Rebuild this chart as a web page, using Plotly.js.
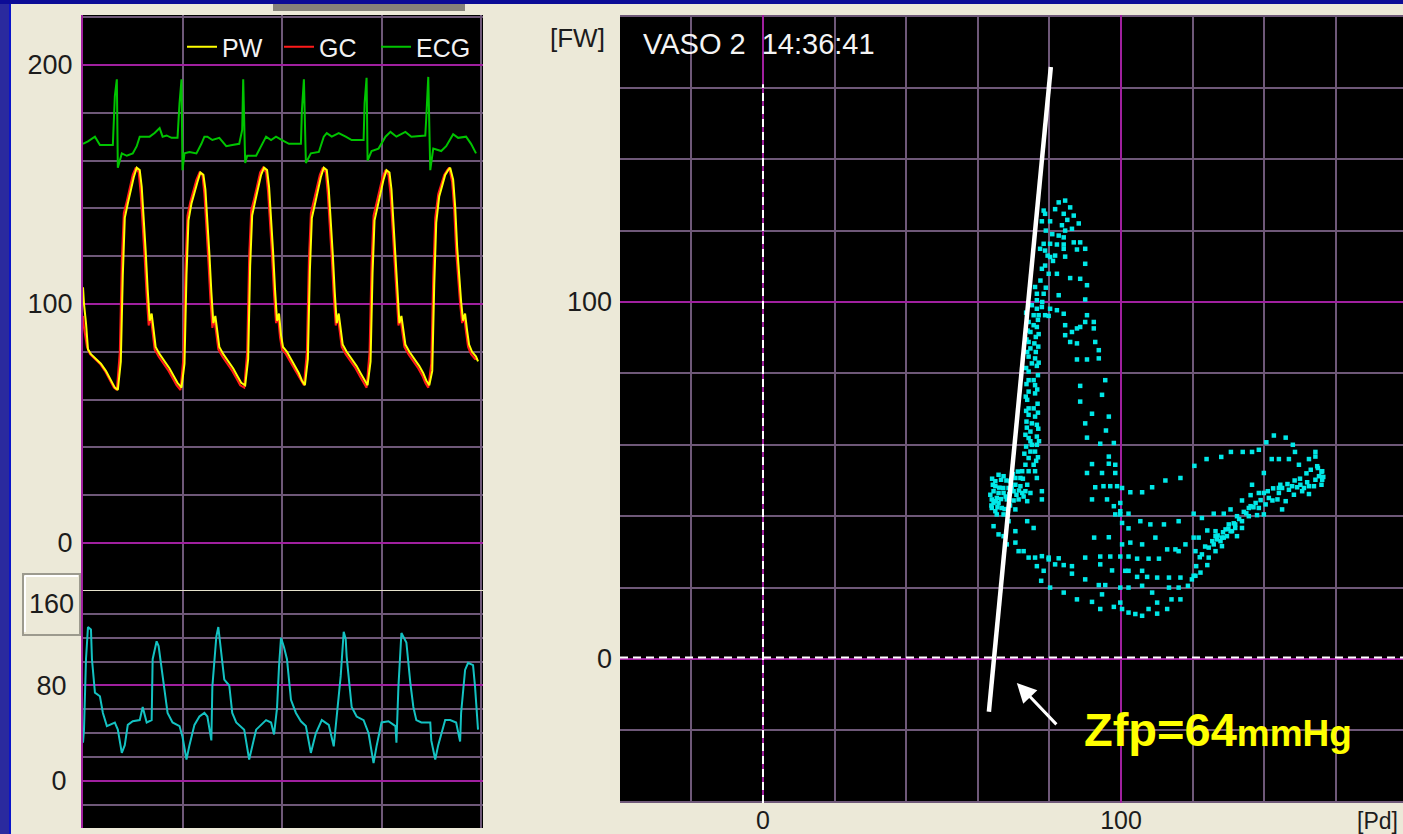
<!DOCTYPE html>
<html>
<head>
<meta charset="utf-8">
<script src="https://cdn.plot.ly/plotly-3.0.1.min.js"></script>
<style>html,body{margin:0;padding:0;background:#ece9d8;}#chart{width:1403px;height:834px;}</style>
</head>
<body>
<div id="chart"></div>
<script>
// ---------- left panel: waveforms (time in 10 ms units) ----------
const gcTime = [0,1,4,7,12,17,22,27,31,34,
 37,39,41,44,47,50,53,56,58,60,62,64,66,68,70,72,76,81,86,90,94,98,
 101,103,105,108,111,114,117,120,122,124,126,128,130,132,134,136,140,145,150,154,158,162,
 165,167,169,172,175,178,181,184,186,188,190,192,194,196,198,200,204,208,212,216,219,222,
 225,227,229,232,235,238,241,244,246,248,250,252,254,256,258,260,264,269,274,278,282,285,
 288,290,292,295,298,301,304,307,309,311,313,315,317,319,321,323,327,332,337,341,344,347,
 350,352,354,357,360,363,366,368,371,373,375,377,379,381,383,385,387,390,394,397];
const gcValues = [95,90,82,79,77,75,72,68,65,64,
 80,118,138,143,149,154,157,155,146,134,119,103,91,95,87,81,78,75,72,69,66,64,
 78,116,137,143,148,152,155,154,146,133,118,102,90,94,86,81,78,75,72,69,66,65,
 80,120,139,144,150,155,157,155,147,135,120,104,92,95,86,81,79,76,73,70,68,66,
 80,118,138,143,149,154,157,155,146,134,119,103,91,95,87,82,79,76,73,70,67,65,
 80,117,137,142,148,153,156,154,146,133,118,103,91,94,87,82,79,76,73,70,67,65,
 75,112,136,146,150,154,156,157,151,140,122,110,100,92,95,88,82,79,77,77];

const pwTime = [0,1,3,5,8,13,18,23,28,32,35,
 38,40,42,45,48,51,54,57,59,61,63,65,67,69,71,73,77,82,87,91,95,99,
 102,104,106,109,112,115,118,121,123,125,127,129,131,133,135,137,141,146,151,155,159,163,
 166,168,170,173,176,179,182,185,187,189,191,193,195,197,199,201,205,209,213,217,220,223,
 226,228,230,233,236,239,242,245,247,249,251,253,255,257,259,261,265,270,275,279,283,286,
 289,291,293,296,299,302,305,308,310,312,314,316,318,320,322,324,328,333,338,342,345,348,
 351,353,355,358,361,364,367,369,372,374,376,378,380,382,384,386,388,391,395,397];
const pwValues = [107,100,92,81,79,77,75,72,68,65,64,
 76,112,136,142,148,153,157,156,149,137,122,106,93,96,88,82,79,76,73,70,67,65,
 75,112,135,142,147,151,155,154,148,136,121,105,92,95,87,82,79,76,73,70,67,66,
 77,116,137,143,149,154,157,156,149,137,122,106,93,96,87,82,80,77,74,71,68,66,
 77,114,136,142,148,153,157,156,148,136,121,105,92,96,88,83,80,77,74,71,68,66,
 76,113,135,141,147,152,156,155,148,135,120,105,92,95,88,83,80,77,74,71,68,66,
 72,108,134,145,150,154,156,157,152,141,124,111,101,93,96,89,83,80,78,76];

const ecgTime = [0,5,12,17,30,32,34,35,39,44,50,54,57,62,67,72,77,80,84,89,95,
 97,99,100,102,107,114,119,122,125,130,137,144,150,157,
 160,161,163,165,174,179,184,189,194,200,207,219,
 220,222,224,229,237,242,245,250,257,264,270,282,
 283,285,286,290,297,304,309,315,324,330,344,
 345,347,349,352,360,365,372,377,385,390,395];
const ecgValues = [167,168,170,166.5,166.5,187,194,157,163,162,163,166,170,170,170,171.5,173.6,170,170.5,169.5,169.5,
 184,194,156,163,163.6,163,167,170,170,168.6,169.5,166,166.5,167,
 172.8,194,159,162,162,166,170,168.6,170,168.6,167,167,
 181,194,159,163,163.6,170,171.5,170,171.5,170,168.6,168.6,
 184,194.6,160,164,165,170,172,170,172,170,170.5,
 178,195,156,165,164,166,171,169.5,170,167,163];

// ---------- lower left panel ----------
const flowTime = [0,1,3,5,8,9,12,17,20,24,32,35,39,42,45,50,57,60,64,69,
 70,74,76,79,82,85,90,97,100,104,107,112,117,122,125,129,
 130,134,136,139,142,147,150,154,162,167,170,174,184,189,192,
 195,197,199,202,205,209,214,219,224,229,234,240,247,252,254,
 259,262,264,265,270,275,282,287,292,295,300,307,314,315,
 317,320,325,329,332,335,340,349,350,354,357,364,369,375,379,
 380,384,387,392,394,397];
const flowValues = [32,43,102,129,127,102,74,71,57,46,49,43,23.5,30,47,50,51,62,49,51,
 102,117,113,93,74,57,49,46,37,18,30,47,54,57,54,34,
 79,121,129,108,85,80,57,49,43,18,30,43,51,49,39,
 61,96,120,112,102,68,57,50,46,23.5,40,51,47,29,47,
 88,125,119,104,62,54,51,40,15,29,49,50,46,32,
 79,124,116,82,62,51,49,49,34,18,30,51,51,49,33,
 57,93,99,97,79,43];

// ---------- right panel: Pd vs FW loop ----------
const pdValues = [82.6,84.4,85.8,84.0,86.8,88.2,80.2,78.4,78.8,77.9,81.6,84.4,86.3,82.6,84.0,86.8,88.6,82.1,84.0,80.2,
 78.4,77.4,78.8,80.2,81.6,84.0,87.7,90.0,84.4,90.0,78.8,77.9,79.8,82.1,85.8,88.6,90.5,90.0,82.6,76.0,
 76.5,78.4,75.1,76.5,77.9,80.2,82.1,84.0,75.6,77.0,78.8,79.8,74.2,75.6,76.5,74.7,76.2,74.2,75.8,74.7,
 76.2,74.2,76.0,75.1,76.5,74.2,75.6,74.2,76.0,74.2,76.0,73.8,74.2,75.6,74.2,76.0,75.1,76.5,74.7,76.5,
 74.2,75.1,76.5,74.7,76.0,74.2,75.6,73.3,72.4,74.2,71.9,73.8,70.5,74.7,72.4,70.0,68.6,67.2,65.8,64.9,
 64.4,65.8,63.9,65.8,68.1,70.0,71.4,73.8,63.9,65.3,64.4,65.8,67.2,68.6,70.5,75.6,73.8,77.9,77.9,76.5,
 76.0,64.9,67.1,65.3,67.2,69.0,70.5,71.9,73.3,64.4,66.7,64.9,73.3,74.7,
 84.4,84.4,86.3,87.7,88.6,90.0,90.5,92.4,92.4,85.8,87.7,92.8,93.8,93.8,87.7,90.5,88.6,95.6,94.7,88.6,
 91.9,96.6,90.0,95.8,90.5,94.2,98.0,96.6,91.9,96.6,98.4,90.5,94.7,98.4,92.8,95.1,97.0,98.9,100.3,102.6,
 105.9,108.7,91.9,96.1,99.8,98.0,99.8,99.8,102.1,
 112.4,116.6,120.5,123.9,128.0,130.7,134.0,136.6,138.5,140.6,142.7,146.0,148.0,148.6,142.1,144.1,146.9,149.7,152.5,154.3,
 154.3,154.8,156.0,156.2,154.3,153.9,151.1,149.2,146.9,145.0,144.1,143.7,146.0,148.3,150.6,152.5,145.0,142.3,140.4,139.9,
 138.5,139.9,136.6,136.2,133.8,136.2,138.5,139.9,138.0,135.7,133.8,131.9,131.0,129.6,128.2,126.8,125.9,128.2,126.4,124.5,
 124.1,122.2,120.8,119.8,118.7,116.6,113.4,110.1,107.3,104.5,101.2,97.5,94.2,90.0,86.3,84.0,81.6,79.8,77.9,76.0,
 74.2,72.8,71.4,70.5,68.1,67.2,70.5,76.5,78.4,77.7,80.2,84.0,87.7,91.9,94.7,94.2,98.0,100.3,102.1,104.0,
 105.9,107.7,110.1,110.1,112.9,114.1,116.6,120.3,
 92.5,94.2,97.0,99.8,102.1,104.5,107.7,110.6,112.9,115.2,118.0,116.1,120.8,120.3,121.7,124.1,126.4,126.4,128.7,130.6,
 132.4,133.8,122.6,125.9,128.7,130.6,132.4,134.3,120.3,116.1,112.0,108.2,105.4,102.1,100.3,98.4,96.6,100.3,102.6,105.9,
 109.6,102.1,105.9,95.6,93.8,99.8,113.4,116.1,99.8,108.7,105.9,102.1,90.0,86.3,82.6,79.8,
 135.7,137.6,141.3,144.1,147.8,150.1,152.5,155.3,156.2,131.9,130.1,129.2,127.8,124.5,122.6,
 73.5,76.8,73.9,77.0,73.6,76.9,73.8,77.0,73.5,76.8,73.6,76.6,73.4,76.7,73.5,76.8,73.6,76.9,73.7,77.1,
 73.5,76.8,73.0,76.3,
 63.5,64.2,65.0,66.0,66.5,67.8,68.8,69.5,70.8,71.5,72.8,64.0,66.5,68.0,69.8,71.2,72.6,63.8,65.5,67.5,69.0,
 79.0,80.8,83.5,85.0,81.0,79.5,77.5,79.0,76.5,78.0,
 150.0,151.8,153.0,155.0,156.5,156.0,152.0,148.5,146.5,144.5,142.5,141.0,139.0,137.0,135.0,133.0,131.5,130.0,128.5,127.0,
 125.5,123.5,122.0,121.0];
const fwValues = [127.9,128.4,126.5,124.7,124.2,122.0,122.6,125.6,124.7,122.6,126.0,120.0,120.5,118.6,118.1,116.7,116.7,116.1,116.1,116.3,
 116.3,114.9,114.4,112.6,113.0,114.9,114.7,114.9,112.7,110.7,110.2,109.3,107.9,107.9,106.7,106.5,104.7,100.7,101.9,104.2,
 102.3,102.3,99.1,98.1,98.6,98.1,97.7,96.7,96.3,96.3,96.3,96.1,94.4,93.5,93.0,91.6,90.2,88.8,88.4,87.0,
 86.0,84.7,84.2,82.8,82.1,80.5,78.1,78.1,76.7,74.9,74.4,72.6,70.2,70.2,68.4,67.9,66.0,65.6,63.7,62.3,
 61.9,60.0,60.0,58.1,58.1,56.3,54.4,54.4,52.6,52.6,50.7,48.8,48.8,46.5,46.5,47.0,47.9,51.2,51.6,49.8,
 47.0,46.5,44.7,43.7,44.7,44.4,44.7,44.2,42.3,40.5,37.2,34.9,40.5,38.6,41.9,36.7,38.6,47.0,44.7,50.7,
 52.6,48.4,47.9,45.1,46.5,49.8,50.7,48.4,47.0,43.7,42.3,41.4,62.8,61.0,
 93.5,90.7,91.6,92.6,93.0,94.4,96.3,94.4,92.6,88.8,88.4,88.8,86.5,84.2,83.9,83.9,76.5,78.1,74.0,72.1,
 68.7,67.9,66.0,64.0,62.0,60.3,60.5,56.7,54.6,54.7,54.4,52.1,52.1,52.1,48.1,48.4,48.4,48.4,47.9,46.7,
 46.7,48.1,44.7,44.7,43.7,42.8,41.4,40.5,40.7,
 50.0,50.7,54.1,56.0,56.6,58.0,58.0,58.0,58.6,60.7,62.6,62.0,60.0,58.0,56.0,56.0,56.0,54.4,56.0,58.0,
 56.7,54.0,52.4,50.2,50.2,48.4,47.9,48.1,47.4,47.9,46.5,44.7,44.2,46.0,47.0,46.2,41.9,44.4,43.3,46.5,
 46.5,52.1,48.8,45.9,44.4,42.8,42.3,40.5,40.3,40.0,38.6,37.7,35.8,34.4,34.0,33.5,32.1,31.6,30.2,28.4,
 26.3,24.2,23.3,22.3,20.5,22.8,22.8,22.8,23.0,23.0,24.7,24.8,26.5,22.3,23.9,26.3,26.5,28.4,28.8,28.4,
 28.4,30.2,30.2,32.6,32.1,34.4,35.8,26.0,24.7,21.9,20.0,18.6,16.7,16.0,18.1,14.0,14.6,14.0,13.0,12.6,
 12.1,14.0,12.7,15.8,14.0,16.7,16.7,23.3,
 34.0,28.7,28.7,28.7,28.7,28.1,28.1,28.1,30.7,30.7,32.1,30.2,30.2,34.0,34.0,36.0,35.8,34.4,34.0,35.8,
 34.4,36.7,39.5,40.7,40.7,41.9,40.0,41.2,40.7,38.6,37.7,37.7,38.6,36.6,38.1,40.5,34.1,32.1,32.6,32.1,
 34.0,20.0,20.5,20.7,20.7,20.0,20.0,20.0,15.8,18.6,24.7,24.7,28.4,26.0,28.2,27.9,
 42.3,43.7,45.1,47.9,48.4,48.8,48.4,51.2,52.6,36.7,37.7,36.3,33.0,31.2,29.3,
 97.0,95.0,92.0,91.0,89.5,87.5,86.0,83.0,81.5,79.5,77.0,75.5,73.5,71.5,69.5,69.0,66.5,64.5,64.8,61.0,
 59.5,56.5,57.5,55.5,
 46.0,48.8,44.2,48.0,44.8,45.5,46.2,48.0,46.0,47.2,45.5,50.5,50.2,50.0,51.8,52.5,50.5,43.0,42.5,42.0,43.0,
 120.0,119.0,121.5,123.0,111.5,113.0,106.0,104.0,100.5,100.0,
 50.5,52.0,53.0,53.5,51.0,48.8,49.5,50.0,49.0,48.8,47.8,47.0,44.5,42.5,40.8,39.2,38.0,36.5,35.5,34.6,
 33.0,31.5,28.5,26.0];

// Zero-flow pressure line (Zfp = 64 mmHg)
const zfpLinePd = [80.4, 63.1];
const zfpLineFw = [165.8, -14.8];

// tick labels
const leftTopTicks = [0, 100, 200];
const leftBottomTicks = [0, 80];
const rightXTicks = [0, 100];
const rightYTicks = [0, 100];

// ---------- layout helpers ----------
const W = 1403, H = 834;
const px = x => x / W;
const py = y => 1 - y / H;
const GRID = '#6e5878';
const MAG = '#a0209f';
const TXT = '#1c1c1c';
const FONT = 'Liberation Sans, Arial, sans-serif';

const traces = [
  {x: pdValues, y: fwValues, xaxis: 'x2', yaxis: 'y2', type: 'scatter', mode: 'markers',
   marker: {symbol: 'square', size: 4.5, color: '#00e8e8'}, showlegend: false, hoverinfo: 'skip'},
  {x: zfpLinePd, y: zfpLineFw, xaxis: 'x2', yaxis: 'y2', type: 'scatter', mode: 'lines',
   line: {color: '#ffffff', width: 4.5}, showlegend: false},
  {x: gcTime, y: gcValues, xaxis: 'x', yaxis: 'y', type: 'scatter', mode: 'lines', name: 'GC',
   line: {color: '#ff1a1a', width: 2}, legendrank: 2},
  {x: pwTime, y: pwValues, xaxis: 'x', yaxis: 'y', type: 'scatter', mode: 'lines', name: 'PW',
   line: {color: '#ffff00', width: 2}, legendrank: 1},
  {x: ecgTime, y: ecgValues, xaxis: 'x', yaxis: 'y', type: 'scatter', mode: 'lines', name: 'ECG',
   line: {color: '#00c400', width: 2}, legendrank: 3},
  {x: flowTime, y: flowValues, xaxis: 'x3', yaxis: 'y3', type: 'scatter', mode: 'lines', name: 'FLOW',
   line: {color: '#14c2c2', width: 2}, showlegend: false}
];

function tickAxis(vals) { return {tickmode: 'array', tickvals: vals, ticktext: vals.map(String)}; }

const layout = {
  width: W, height: H,
  margin: {l: 0, r: 0, t: 0, b: 0, pad: 0},
  paper_bgcolor: '#ece9d8',
  plot_bgcolor: '#000000',
  font: {family: FONT, color: TXT, size: 27},
  showlegend: true,
  legend: {orientation: 'h', x: px(182), xanchor: 'left', y: py(47), yanchor: 'middle',
    font: {size: 25, color: '#f2f2f2', family: FONT}, bgcolor: 'rgba(0,0,0,0)',
    entrywidth: 52, entrywidthmode: 'pixels', itemwidth: 30, itemclick: false},
  xaxis: {domain: [px(83), px(483)], range: [0, 402], anchor: 'y', showticklabels: false, ticks: '',
    tickmode: 'linear', tick0: 0, dtick: 100, showgrid: true, gridcolor: GRID, gridwidth: 2, zeroline: false, fixedrange: true},
  yaxis: Object.assign(tickAxis(leftTopTicks), {domain: [py(590), py(15)], range: [-19.67, 220.9], anchor: 'x',
    showgrid: true, gridcolor: MAG, gridwidth: 2, zeroline: false, ticks: '', ticklabelstandoff: 3,
    minor: {tickmode: 'linear', tick0: 0, dtick: 20, showgrid: true, gridcolor: GRID, gridwidth: 2},
    showline: true, linecolor: MAG, linewidth: 2, tickfont: {size: 27, color: TXT}}),
  xaxis3: {domain: [px(83), px(483)], range: [0, 402], anchor: 'y3', showticklabels: false, ticks: '',
    tickmode: 'linear', tick0: 0, dtick: 100, showgrid: true, gridcolor: GRID, gridwidth: 2, zeroline: false},
  yaxis3: Object.assign(tickAxis(leftBottomTicks), {domain: [py(828), py(590)], range: [-39.4, 160], anchor: 'x3',
    showgrid: true, gridcolor: MAG, gridwidth: 2, zeroline: false, ticks: '', ticklabelstandoff: 9,
    minor: {tickmode: 'linear', tick0: 0, dtick: 20, showgrid: true, gridcolor: GRID, gridwidth: 2},
    showline: true, linecolor: MAG, linewidth: 2, tickfont: {size: 27, color: TXT}}),
  xaxis2: Object.assign(tickAxis(rightXTicks), {domain: [px(620), 1], range: [-39.94, 178.77], anchor: 'y2',
    showgrid: true, gridcolor: MAG, gridwidth: 2, zeroline: false, ticks: '', ticklabelstandoff: 0,
    minor: {tickmode: 'linear', tick0: 0, dtick: 20, showgrid: true, gridcolor: GRID, gridwidth: 2},
    tickfont: {size: 25, color: TXT}}),
  yaxis2: Object.assign(tickAxis(rightYTicks), {domain: [py(803), py(15)], range: [-40.34, 180.39], anchor: 'x2',
    showgrid: true, gridcolor: MAG, gridwidth: 2, zeroline: false, ticks: '', ticklabelstandoff: 7,
    minor: {tickmode: 'linear', tick0: 0, dtick: 20, showgrid: true, gridcolor: GRID, gridwidth: 2},
    tickfont: {size: 27, color: TXT}}),
  shapes: [
    // window chrome
    {type: 'rect', xref: 'paper', yref: 'paper', x0: 0, x1: px(9), y0: 0, y1: 1, fillcolor: '#2a2a9e', line: {width: 0}, layer: 'below'},
    {type: 'rect', xref: 'paper', yref: 'paper', x0: px(9), x1: px(11), y0: 0, y1: 1, fillcolor: '#0a14c8', line: {width: 0}, layer: 'below'},
    {type: 'rect', xref: 'paper', yref: 'paper', x0: 0, x1: 1, y0: py(4), y1: 1, fillcolor: '#0c0c96', line: {width: 0}, layer: 'below'},
    {type: 'rect', xref: 'paper', yref: 'paper', x0: px(273), x1: px(465), y0: py(11), y1: py(4), fillcolor: '#86837a', line: {width: 0}},
    // 160 button
    {type: 'rect', xref: 'paper', yref: 'paper', x0: px(23), x1: px(80), y0: py(635), y1: py(574), fillcolor: '#ece9d8', line: {color: '#9c9a8e', width: 2}},
    {type: 'line', xref: 'paper', yref: 'paper', x0: px(25), x1: px(78), y0: py(576), y1: py(576), line: {color: '#ffffff', width: 2}},
    {type: 'line', xref: 'paper', yref: 'paper', x0: px(25), x1: px(25), y0: py(576), y1: py(632), line: {color: '#ffffff', width: 2}},
    // lower-left 160 reference line
    {type: 'line', xref: 'x3 domain', yref: 'y3', x0: 0, x1: 1, y0: 160, y1: 160, line: {color: '#e6e2cc', width: 2}},
    // right panel dashed zero axes
    {type: 'line', xref: 'x2 domain', yref: 'y2', x0: 0, x1: 1, y0: 0.4, y1: 0.4, line: {color: '#ffffff', width: 2, dash: '8px,5px'}},
    {type: 'line', xref: 'x2', yref: 'y2', x0: 0, x1: 0, y0: -40.34, y1: 161, line: {color: '#ffffff', width: 2, dash: '8px,5px'}}
  ],
  annotations: [
    {xref: 'paper', yref: 'paper', x: px(51), y: py(604), text: '160', showarrow: false, xanchor: 'center', yanchor: 'middle', font: {size: 27, color: TXT}},
    {xref: 'paper', yref: 'paper', x: px(548), y: py(38), text: '[FW]', showarrow: false, xanchor: 'left', yanchor: 'middle', font: {size: 26, color: TXT}},
    {xref: 'paper', yref: 'paper', x: px(1400), y: py(821), text: '[Pd]', showarrow: false, xanchor: 'right', yanchor: 'middle', font: {size: 23, color: TXT}},
    {xref: 'paper', yref: 'paper', x: px(641), y: py(44), text: 'VASO 2\u00a0\u00a014:36:41', showarrow: false, xanchor: 'left', yanchor: 'middle', font: {size: 29, color: '#f4f4f4'}},
    {xref: 'x2', yref: 'y2', x: 70.9, y: -6.7, ax: 41, ay: 43, text: '', showarrow: true, arrowcolor: '#ffffff', arrowwidth: 3, arrowhead: 2, arrowsize: 1.3},
    {xref: 'paper', yref: 'paper', x: px(1082), y: py(729), text: '<b>Zfp=64<span style="font-size:37px">mmHg</span></b>', showarrow: false, xanchor: 'left', yanchor: 'middle',
     font: {size: 47, color: '#ffff00', family: 'Liberation Sans, Arial, sans-serif'}}
  ]
};

Plotly.newPlot('chart', traces, layout, {staticPlot: true, displayModeBar: false});
</script>
</body>
</html>
